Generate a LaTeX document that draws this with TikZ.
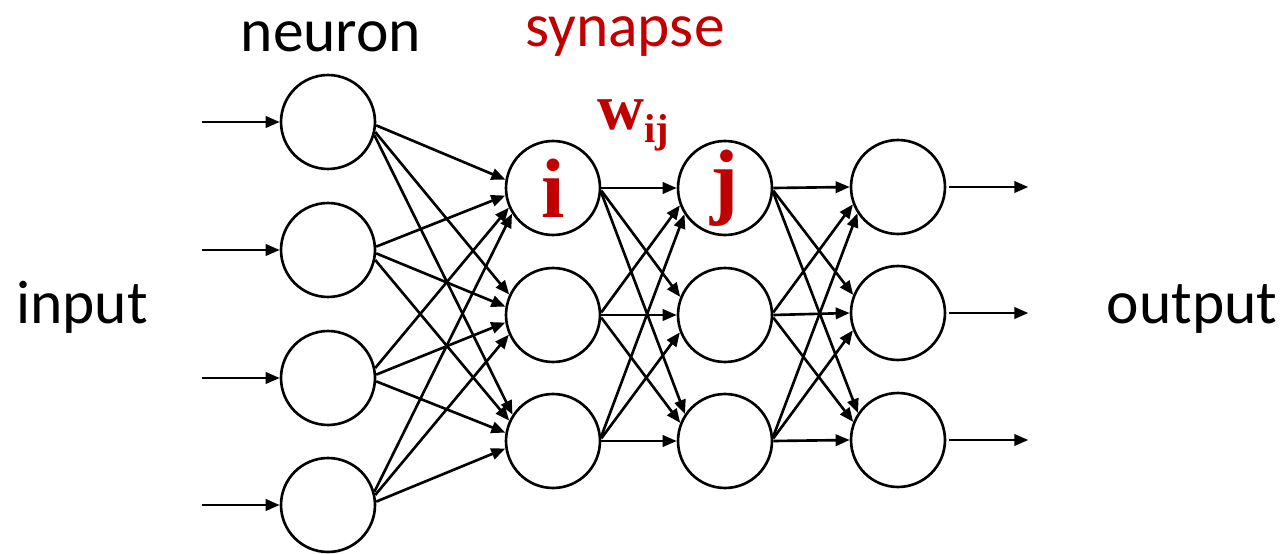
\documentclass[tikz,border=0pt]{standalone}
\usepackage{fontspec}
\setmainfont{Carlito}
\newfontfamily\timesfont{Liberation Serif}
\usetikzlibrary{arrows.meta,calc}
\definecolor{synred}{HTML}{C00000}
\begin{document}
\begin{tikzpicture}[x=0.02cm,y=-0.02cm,
  neuron/.style={circle,draw,line width=1.5pt,minimum size=1.88cm,inner sep=0pt},
  syn/.style={line width=1.5pt,-{Triangle[length=8pt,width=6.5pt]}},
  caption/.style={font=\fontsize{35}{42}\selectfont,anchor=base,inner sep=0pt},
  idx/.style={font=\timesfont\bfseries\fontsize{48}{52}\selectfont,text=synred,anchor=base,inner sep=0pt}]
\useasboundingbox (0,0) rectangle (1285,554);

% neurons, layer by layer
\foreach \n/\y in {1/122,2/250,3/378,4/505} \node[neuron] (a\n) at (328,\y) {};
\foreach \n/\y in {1/188,2/315,3/441} \node[neuron] (b\n) at (553,\y) {};
\foreach \n/\y in {1/188,2/315,3/441} \node[neuron] (c\n) at (725,\y) {};
\foreach \n/\y in {1/187,2/313,3/440} \node[neuron] (d\n) at (898,\y) {};

% neuron indices
\node[idx] (li) at (553,217) {i};
\node[idx] (lj) at (725,208) {j};
\node[font=\timesfont\bfseries,text=synred,anchor=base west,inner sep=0pt] (wij) at (597,130)
  {{\fontsize{37}{40}\selectfont w}{\fontsize{23}{26}\selectfont\raisebox{-7.4pt}{ij}}};

% captions
\node[caption] (tneuron) at (331,52) {neuron};
\node[caption,text=synred] (tsyn) at (625,47) {synapse};
\node[caption] (tin) at (82,323) {input};
\node[caption] (tout) at (1192,323) {output};

% inputs
\foreach \n in {1,2,3,4} {
  \path (a\n.west) ++(-78,0) coordinate (in\n);
  \draw[syn] (in\n) -- (a\n.west);
}
% outputs
\foreach \n in {1,2,3} {
  \path (d\n.east) ++(82,0) coordinate (out\n);
  \draw[syn] (d\n.east) ++(3,0) -- (out\n);
}

% synapses between layers
\foreach \i/\yi in {1/122,2/250,3/378,4/505}
  \foreach \j/\yj in {1/188,2/315,3/441} {
    \pgfmathsetmacro\ang{atan2(\yi-\yj,225)}
    \pgfmathsetmacro\sa{0.3*\ang}
    \pgfmathsetmacro\ta{180+0.6*\ang}
    \draw[syn] (a\i.\sa) -- (b\j.\ta);
  }
\foreach \i/\yi in {1/188,2/315,3/441}
  \foreach \j/\yj in {1/188,2/315,3/441} {
    \pgfmathsetmacro\ang{atan2(\yi-\yj,172)}
    \pgfmathsetmacro\sa{0.1*\ang}
    \pgfmathsetmacro\ta{180+0.6*\ang}
    \draw[syn] (b\i.\sa) -- (c\j.\ta);
  }
\foreach \i/\yi in {1/188,2/315,3/441}
  \foreach \j/\yj in {1/187,2/313,3/440} {
    \pgfmathsetmacro\ang{atan2(\yi-\yj,173)}
    \pgfmathsetmacro\sa{0.1*\ang}
    \pgfmathsetmacro\ta{180+0.6*\ang}
    \draw[syn] (c\i.\sa) -- (d\j.\ta);
  }
\end{tikzpicture}
\end{document}
